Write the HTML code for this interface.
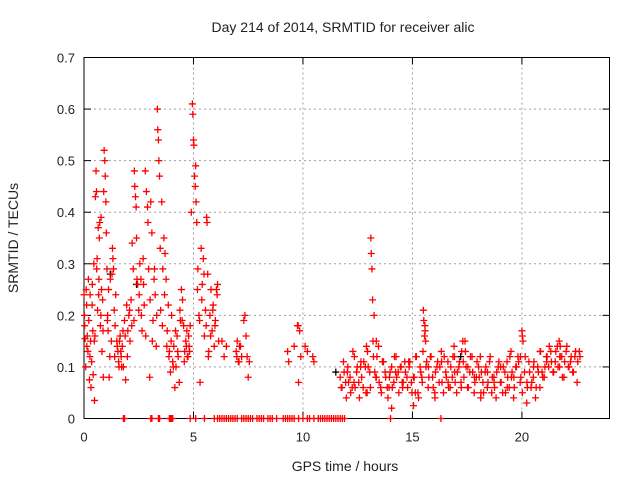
<!DOCTYPE html>
<html><head><meta charset="utf-8"><style>
body{margin:0;background:#fff}
svg{display:block;font-family:"Liberation Sans",sans-serif}
</style></head><body>
<svg id="c" width="640" height="480"></svg>
<script>
const tA=[0.0,0.02,0.05,0.08,0.1,0.12,0.15,0.18,0.2,0.22,0.25,0.28,0.3,0.32,0.35,0.38,0.4,0.42,0.45,0.48,0.5,0.52,0.55,0.57,0.6,0.62,0.65,0.68,0.7,0.72,0.75,0.78,0.8,0.82,0.85,0.88,0.9,0.92,0.95,0.97,1.0,1.02,1.05,1.08,1.1,1.12,1.15,1.2,1.25,1.3,1.32,1.35,1.38,1.4,1.45,1.5,1.55,1.6,1.65,1.7,1.75,1.8,1.85,1.9,1.95,2.0,2.05,2.1,2.15,2.2,2.25,2.3,2.32,2.35,2.38,2.4,2.45,2.5,2.55,2.6,2.65,2.7,2.75,2.8,2.85,2.9,2.92,2.95,3.0,3.05,3.1,3.15,3.2,3.25,3.3,3.35,3.37,3.4,3.42,3.45,3.5,3.55,3.6,3.65,3.7,3.75,3.8,3.85,3.9,3.95,4.0,4.05,4.1,4.15,4.2,4.25,4.3,4.35,4.4,4.45,4.5,4.55,4.6,4.65,4.7,4.75,4.8,4.85,4.9,4.95,4.97,5.0,5.02,5.05,5.08,5.1,5.12,5.15,5.2,5.25,5.3,5.35,5.4,5.45,5.5,5.55,5.6,5.62,5.65,5.7,5.75,5.8,5.85,5.9,5.95,6.0,6.05,6.1,6.15,6.3,6.4,6.5,6.95,7.0,7.05,7.1,7.2,7.3,7.35,7.4,7.45,7.5,7.55,9.3,9.35,9.6,9.75,9.8,9.85,9.9,10.1,10.2,10.45,10.5];
const vA=[.24,.20,.155,.10,.25,.22,.16,.13,.27,.19,.075,.24,.15,.06,.11,.26,.17,.085,.30,.035,.16,.43,.48,.44,.31,.21,.37,.27,.35,.38,.18,.39,.25,.13,.23,.08,.44,.52,.50,.47,.42,.36,.29,.20,.17,.25,.08,.27,.15,.33,.31,.29,.21,.12,.24,.15,.13,.10,.16,.12,.14,.10,.19,.075,.22,.17,.20,.15,.23,.34,.29,.48,.45,.43,.41,.35,.26,.21,.30,.27,.17,.31,.22,.48,.44,.41,.38,.29,.08,.42,.36,.19,.27,.24,.14,.60,.56,.54,.50,.47,.21,.42,.29,.35,.32,.27,.17,.22,.13,.09,.20,.11,.14,.06,.10,.16,.12,.07,.19,.25,.23,.18,.13,.15,.17,.12,.14,.18,.40,.61,.59,.54,.53,.47,.45,.49,.42,.38,.29,.20,.07,.33,.26,.31,.16,.21,.39,.38,.28,.13,.20,.25,.17,.22,.14,.19,.25,.26,.15,.15,.12,.14,.13,.15,.11,.14,.12,.19,.20,.16,.12,.08,.11,.13,.11,.14,.18,.07,.17,.12,.14,.13,.12,.11];
const tB=[0.03,0.13,0.27,0.37,0.47,0.58,0.67,0.77,0.87,1.07,1.18,1.28,1.42,1.52,1.58,1.62,1.68,1.72,1.78,1.88,1.98,2.08,2.18,2.28,2.42,2.52,2.62,2.72,2.82,3.02,3.12,3.22,3.32,3.48,3.58,3.68,3.78,3.88,3.98,4.08,4.18,4.28,4.38,4.48,4.58,4.68,4.72,4.78,4.82,5.18,5.28,5.38,5.48,5.58,5.68,5.78,5.88,5.98,6.08,6.98,7.08,7.15,9.78,11.7,11.75,11.85,11.95,12.05,12.15,12.25,12.35,12.45,12.55,12.65,12.75,12.85,12.95,13.05,13.22,13.35,13.45,13.55,13.65,13.75,13.85,13.95,14.05,14.15,14.25,14.35,14.45,14.55,14.65,14.75,14.85,14.95,15.05,15.15,15.25,15.35,15.45,15.58,15.65,15.75,15.85,15.95,16.05,16.15,16.25,16.35,16.45,16.55,16.65,16.75,16.85,16.95,17.05,17.15,17.25,17.35,17.45,17.55,17.65,17.75,17.85,17.95,18.05,18.15,18.25,18.35,18.45,18.55,18.65,18.75,18.85,18.95,19.05,19.15,19.25,19.35,19.45,19.55,19.65,19.75,19.85,19.95,20.15,20.25,20.35,20.45,20.55,20.65,20.75,20.85,20.95,21.05,21.15,21.25,21.35,21.45,21.55,21.65,21.75,21.85,21.95,22.05,22.15,22.25,22.35,22.45,22.55,22.65];
const vB=[.18,.14,.12,.22,.15,.29,.24,.20,.17,.19,.12,.28,.18,.14,.11,.15,.13,.10,.17,.16,.12,.21,.18,.19,.27,.24,.20,.26,.16,.23,.15,.29,.20,.33,.18,.24,.14,.12,.15,.10,.17,.13,.21,.19,.11,.14,.12,.16,.13,.25,.19,.23,.28,.18,.12,.16,.21,.18,.24,.12,.11,.14,.18,.08,.06,.11,.07,.10,.08,.06,.12,.09,.07,.11,.06,.10,.13,.09,.12,.08,.14,.06,.11,.09,.06,.08,.10,.07,.12,.09,.10,.06,.11,.08,.10,.07,.08,.12,.05,.10,.07,.17,.11,.08,.12,.06,.09,.11,.10,.07,.12,.08,.06,.10,.12,.07,.09,.11,.13,.08,.10,.06,.12,.09,.07,.11,.08,.09,.05,.10,.07,.12,.08,.06,.09,.11,.07,.10,.05,.08,.12,.09,.06,.10,.11,.08,.12,.06,.09,.07,.11,.06,.09,.13,.08,.10,.12,.14,.11,.09,.13,.10,.12,.08,.11,.14,.10,.12,.09,.13,.11,.12];
const tC=[11.78,11.88,11.98,12.08,12.18,12.28,12.38,12.48,12.58,12.68,12.78,12.88,12.98,13.08,13.28,13.38,13.48,13.58,13.68,13.78,13.88,13.98,14.08,14.18,14.28,14.38,14.48,14.58,14.68,14.78,14.88,14.98,15.08,15.18,15.28,15.38,15.48,15.62,15.72,15.82,15.92,16.02,16.12,16.22,16.32,16.42,16.52,16.62,16.72,16.82,16.92,17.02,17.12,17.22,17.32,17.42,17.52,17.62,17.72,17.82,17.92,18.02,18.12,18.22,18.32,18.42,18.52,18.62,18.72,18.82,18.92,19.02,19.12,19.22,19.32,19.42,19.52,19.62,19.72,19.82,19.92,20.02,20.12,20.22,20.32,20.42,20.52,20.62,20.72,20.82,20.92,21.02,21.12,21.22,21.32,21.42,21.52,21.62,21.72,21.82,21.92,22.02,22.12,22.22,22.32,22.42,22.52,22.62,12.03,12.33,12.63,12.93,13.33,13.63,13.93,14.23,14.53,14.83,15.13,15.43,15.73,16.03,16.33,16.63,16.93,17.23,17.53,17.83,18.13,18.43,18.73,19.03,19.33,19.63,19.93,20.23,20.53,20.83,21.13,21.43,21.73,22.03,22.33,22.63];
const vC=[.06,.09,.04,.07,.05,.13,.06,.10,.04,.08,.11,.05,.10,.06,.09,.12,.07,.05,.11,.08,.04,.09,.06,.12,.08,.05,.10,.07,.09,.06,.11,.05,.08,.12,.04,.09,.13,.10,.06,.12,.08,.05,.10,.07,.13,.05,.09,.11,.06,.08,.12,.05,.10,.07,.11,.13,.06,.09,.12,.05,.08,.10,.04,.07,.09,.06,.11,.05,.08,.04,.10,.07,.05,.09,.11,.06,.08,.04,.10,.12,.07,.05,.09,.03,.11,.06,.08,.04,.10,.06,.09,.08,.12,.10,.13,.09,.11,.14,.10,.12,.08,.13,.10,.11,.09,.12,.07,.13,.09,.07,.10,.05,.08,.11,.06,.09,.07,.11,.05,.08,.10,.04,.11,.07,.09,.06,.10,.08,.05,.09,.07,.10,.06,.08,.12,.07,.10,.13,.11,.09,.12];
const tD=[13.1,13.12,13.15,13.18,13.2,13.25,15.5,15.52,15.55,15.6,15.57,16.9,17.3,17.4,20.0,20.05,20.02,21.7,21.75,12.9,13.35,14.05,15.05,18.1,19.5];
const vD=[.35,.32,.29,.23,.15,.20,.21,.19,.16,.15,.18,.14,.15,.15,.17,.15,.16,.15,.14,.14,.15,.02,.025,.12,.13];
const tZero=[1.8,1.85,3.05,3.1,3.4,3.45,3.9,3.95,4.0,4.05,4.85,5.1,5.5,5.95,6.1,6.2,6.3,6.4,6.5,6.6,6.7,6.8,6.9,7.0,7.2,7.3,7.4,7.5,7.6,7.7,7.9,8.0,8.1,8.2,8.4,8.5,8.6,8.8,9.1,9.2,9.3,9.4,9.5,9.6,9.8,10.0,10.2,10.3,10.5,10.7,10.8,10.9,11.0,11.1,11.2,11.3,11.4,11.5,11.6,11.7,11.8,11.9,14.0,16.3];
const tBlack=[1.2,2.4,11.5,17.2];
const vBlack=[0.28,0.26,0.09,0.12];
const yTicks=[0,0.1,0.2,0.3,0.4,0.5,0.6,0.7];
const xTicks=[0,5,10,15,20];

const svg=document.getElementById('c');const NS='http://www.w3.org/2000/svg';
const L=84,R=609.5,T=57.5,B=418.5,XMAX=24,YMAX=0.7;
const xs=t=>L+t/XMAX*(R-L), ys=v=>B-v/YMAX*(B-T);
function mk(tag,a,p){const e=document.createElementNS(NS,tag);for(const k in a)e.setAttribute(k,a[k]);(p||svg).appendChild(e);return e;}
const grid=mk('g',{});
yTicks.forEach(v=>{const y=ys(v);
 if(v>0&&v<YMAX){mk('line',{x1:L,x2:R,y1:y,y2:y,stroke:'#a0a0a0','stroke-dasharray':'2,3'},grid);}
 mk('line',{x1:L,x2:L+7,y1:y,y2:y,stroke:'#000'});mk('line',{x1:R,x2:R-7,y1:y,y2:y,stroke:'#000'});
 const tx=mk('text',{x:L-9,y:y+5,'text-anchor':'end','font-size':'13',fill:'#222'});tx.textContent=v===0?'0':v.toFixed(1);
 
 });
xTicks.forEach(t=>{const x=xs(t);
 if(t>0){mk('line',{x1:x,x2:x,y1:T,y2:B,stroke:'#a0a0a0','stroke-dasharray':'2,3'},grid);}
 mk('line',{x1:x,x2:x,y1:B,y2:B-7,stroke:'#000'});mk('line',{x1:x,x2:x,y1:T,y2:T+7,stroke:'#000'});
 const tx=mk('text',{x:x,y:B+23,'text-anchor':'middle','font-size':'13',fill:'#222'});tx.textContent=t;
 
 });
const fr=mk('rect',{x:L,y:T,width:R-L,height:B-T,fill:'none',stroke:'#000'});


function plus(t,v,col,g){const x=xs(t),y=ys(v);mk('path',{d:`M${x-3.5},${y}h7M${x},${y-3.5}v7`,stroke:col,'stroke-width':1.3,fill:'none'},g);}
const gk=mk('g',{});
tBlack.forEach((t,i)=>plus(t,vBlack[i],'#000',gk));
const gr=mk('g',{});
tA.forEach((t,i)=>plus(t,vA[i],'#f00',gr));
tB.forEach((t,i)=>plus(t,vB[i],'#f00',gr));
tC.forEach((t,i)=>plus(t,vC[i],'#f00',gr));
tD.forEach((t,i)=>plus(t,vD[i],'#f00',gr));
tZero.forEach(t=>plus(t,0,'#f00',gr));
const ti=mk('text',{x:343,y:32,'text-anchor':'middle','font-size':'14',fill:'#222'});ti.textContent='Day 214 of 2014, SRMTID for receiver alic';

const xt=mk('text',{x:345,y:471,'text-anchor':'middle','font-size':'14',fill:'#222'});xt.textContent='GPS time / hours';

const yt=mk('text',{x:0,y:0,'text-anchor':'middle','font-size':'14',fill:'#222',transform:'translate(18,238) rotate(-90)'});yt.textContent='SRMTID / TECUs';

</script>
</body></html>
